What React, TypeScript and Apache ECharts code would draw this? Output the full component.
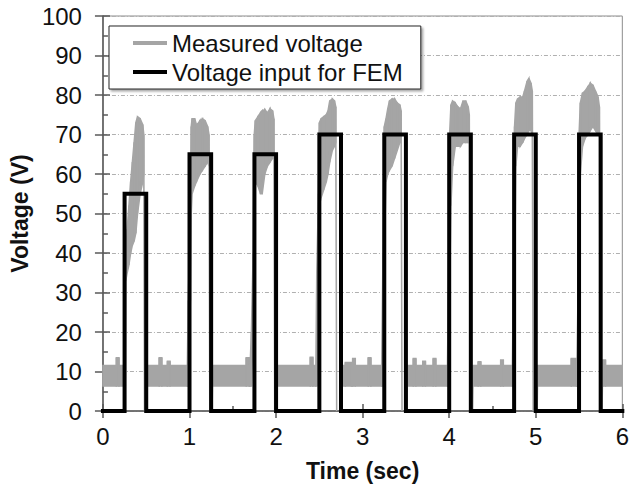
import React, { useEffect, useRef } from "react";
import * as echarts from "echarts";

// ---------- data ----------
const xTickLabels = ["0", "1", "2", "3", "4", "5", "6"];
const yTickLabels = ["0", "10", "20", "30", "40", "50", "60", "70", "80", "90", "100"];

// FEM voltage input: rectangular pulses
const pulseStart = [0.25, 1.0, 1.75, 2.5, 3.25, 4.0, 4.75, 5.5];
const pulseEnd = [0.5, 1.25, 2.0, 2.75, 3.5, 4.25, 5.0, 5.75];
const pulseLevel = [55, 65, 65, 70, 70, 70, 70, 70];

// Measured voltage: noisy band between off periods [low, high]
const baselineLow = 6.3;
const baselineHigh = 11.5;
const offStart = [0, 0.505, 1.265, 2.01, 2.765, 3.515, 4.275, 5.02, 5.77];
const offEnd = [0.245, 0.975, 1.7, 2.46, 3.22, 3.98, 4.73, 5.475, 6.0];
// [start, end, peak] of small spikes on the baseline band
const baselineSpikes = [
  [0.155, 0.185, 13.5], [0.65, 0.68, 13.5], [0.745, 0.775, 12.6], [1.655, 1.69, 13.5],
  [2.395, 2.425, 13.6], [2.8, 2.87, 12.3], [2.885, 2.915, 13.3], [3.065, 3.095, 13.5],
  [3.585, 3.615, 13.3], [3.695, 3.725, 12.6], [3.815, 3.845, 13.3], [4.335, 4.365, 12.5],
  [4.595, 4.625, 12.9], [5.41, 5.47, 13.3], [5.775, 5.805, 12.9],
];

// measured bursts: [time, lower envelope, upper envelope]
const burst1 = [
  [0.258, 6.3, 33], [0.264, 33, 40], [0.28, 35, 46], [0.3, 37, 52], [0.32, 40, 58], [0.34, 42, 63],
  [0.36, 43, 68], [0.38, 45, 73], [0.4, 50, 74.5], [0.43, 55, 74], [0.46, 58, 72.5], [0.472, 60, 70],
  [0.48, 0, 0],
];
const burst2 = [
  [0.985, 6.3, 28], [1.01, 28, 50], [1.02, 50, 72], [1.03, 55, 74], [1.06, 57, 74], [1.08, 58, 72.5],
  [1.1, 59, 72.8], [1.12, 60, 73.5], [1.15, 61, 74], [1.18, 62, 73.5], [1.21, 63, 72], [1.225, 62, 70],
  [1.234, 0, 0],
];
const burst3 = [
  [1.715, 6.3, 20], [1.735, 20, 40], [1.748, 40, 70], [1.76, 58, 73.5], [1.79, 57, 74.5], [1.82, 55, 75.5],
  [1.84, 55, 76], [1.87, 60, 76.3], [1.9, 62, 75.5], [1.93, 63, 76.5], [1.96, 64, 76], [1.975, 64, 74],
  [1.984, 0, 0],
];
const burst4 = [
  [2.47, 6.3, 35], [2.49, 35, 55], [2.5, 52, 73], [2.52, 54, 74], [2.55, 56, 74.5], [2.58, 58, 75],
  [2.6, 60, 76], [2.62, 63, 78.5], [2.65, 66, 79], [2.675, 67, 78.5], [2.69, 68, 77], [2.7, 0, 0],
];
const burst5 = [
  [3.235, 6.3, 40], [3.25, 40, 72], [3.27, 58, 74], [3.29, 60, 76.5], [3.31, 61, 78.5], [3.34, 62, 79],
  [3.37, 64, 79], [3.4, 66, 78], [3.43, 68, 77.5], [3.445, 68, 76], [3.455, 0, 0],
];
const burst6 = [
  [3.99, 6.3, 30], [4.005, 30, 70], [4.02, 52, 77.5], [4.04, 62, 78.5], [4.07, 67, 78], [4.1, 67, 77],
  [4.13, 67, 76.5], [4.16, 68, 78.5], [4.19, 68, 78.5], [4.22, 68, 77], [4.232, 68, 75], [4.242, 0, 0],
];
const burst7 = [
  [4.74, 6.3, 30], [4.755, 30, 72], [4.77, 62, 78], [4.79, 67, 79], [4.82, 67, 79.5], [4.85, 68, 79.5],
  [4.87, 69, 81], [4.9, 70, 83.5], [4.92, 71, 84.2], [4.945, 71, 83], [4.96, 70, 81], [4.97, 0, 0],
];
const burst8 = [
  [5.485, 6.3, 25], [5.5, 25, 70], [5.515, 60, 78], [5.54, 67, 80.5], [5.57, 69, 81], [5.6, 70, 82],
  [5.63, 71, 83], [5.66, 72, 82.5], [5.69, 71, 81], [5.72, 70, 79.5], [5.735, 70, 77], [5.745, 0, 0],
];
const bursts = [burst1, burst2, burst3, burst4, burst5, burst6, burst7, burst8];

const measuredName = "Measured voltage";
const femName = "Voltage input for FEM";

// ---------- styles ----------
const FONT = "'Liberation Sans', Arial, sans-serif";
const GRAY = "#a5a5a5";
const AXIS = "#595959";
const TEXT = "#111111";

export default function App() {
  const ref = useRef<HTMLDivElement>(null);

  useEffect(() => {
    const chart = echarts.init(ref.current!, null, { renderer: "svg" });

    const fem: number[][] = [[0, 0]];
    pulseStart.forEach((s, i) => {
      fem.push([s, 0], [s, pulseLevel[i]], [pulseEnd[i], pulseLevel[i]], [pulseEnd[i], 0]);
    });
    fem.push([6, 0]);

    // envelope points [t, low, high]
    const env: number[][] = [];
    for (let i = 0; i < offStart.length; i++) {
      if (i > 0) env.push([offStart[i] - 0.004, 0, 0]);
      env.push([offStart[i], baselineLow, baselineHigh]);
      baselineSpikes
        .filter((s) => s[0] >= offStart[i] && s[1] <= offEnd[i])
        .forEach(([a, b, h]) => {
          env.push([a, baselineLow, baselineHigh], [a, baselineLow, h], [b, baselineLow, h], [b, baselineLow, baselineHigh]);
        });
      env.push([offEnd[i], baselineLow, baselineHigh]);
      if (i < bursts.length) bursts[i].forEach((p) => env.push(p));
    }
    // band segments between consecutive envelope points
    const segments: number[][] = [];
    for (let i = 0; i + 1 < env.length; i++) {
      const a = env[i];
      const b = env[i + 1];
      if (a[2] === 0 && b[2] === 0) continue;
      segments.push([a[0], a[1], a[2], b[0], b[1], b[2]]);
    }

    const tickStyle = { color: AXIS, width: 1.5 };

    chart.setOption({
      animation: false,
      grid: {
        left: 98,
        right: 9,
        top: 16,
        bottom: 76,
        show: true,
        borderColor: "#8c8c8c",
        borderWidth: 1,
        containLabel: false,
      },
      legend: {
        left: 109,
        top: 26,
        orient: "vertical",
        backgroundColor: "#ffffff",
        borderColor: "#262626",
        borderWidth: 1,
        borderRadius: 0,
        padding: [5, 18, 5, 24],
        itemGap: 5,
        itemWidth: 34,
        itemHeight: 4,
        shadowColor: "rgba(0,0,0,0.35)",
        shadowBlur: 2,
        shadowOffsetX: 2,
        shadowOffsetY: 2,
        selectedMode: false,
        textStyle: { fontSize: 24, fontFamily: FONT, color: TEXT },
        data: [
          { name: measuredName, icon: "rect", itemStyle: { color: GRAY } },
          { name: femName, icon: "rect", itemStyle: { color: "#000000" } },
        ],
      },
      xAxis: [
        {
          type: "value",
          min: 0,
          max: 6,
          interval: 1,
          position: "bottom",
          axisLine: { show: true, onZero: false, lineStyle: tickStyle },
          axisTick: { show: true, length: 7, lineStyle: tickStyle },
          axisLabel: {
            fontSize: 24,
            fontFamily: FONT,
            color: TEXT,
            margin: 13,
            formatter: (v: number) => xTickLabels[Math.round(v)] ?? "",
          },
          splitLine: { show: false },
          name: "Time (sec)",
          nameLocation: "middle",
          nameGap: 48,
          nameTextStyle: { fontSize: 23, fontWeight: "bold", fontFamily: FONT, color: TEXT },
        },
        {
          type: "value",
          min: 0,
          max: 6,
          interval: 1,
          position: "bottom",
          axisLine: { show: false, onZero: false },
          axisTick: { show: true, inside: true, length: 7, lineStyle: tickStyle },
          minorTick: { show: true, splitNumber: 2, length: 5, lineStyle: tickStyle },
          axisLabel: { show: false },
          splitLine: { show: false },
        },
      ],
      yAxis: [
        {
          type: "value",
          min: 0,
          max: 100,
          interval: 10,
          position: "left",
          axisLine: { show: true, onZero: false, lineStyle: tickStyle },
          axisTick: { show: true, length: 8, lineStyle: tickStyle },
          axisLabel: {
            fontSize: 24,
            fontFamily: FONT,
            color: TEXT,
            margin: 21,
            formatter: (v: number) => yTickLabels[Math.round(v / 10)] ?? "",
          },
          splitLine: {
            show: true,
            lineStyle: { color: "#b0b0b0", width: 1, type: [4, 2, 1, 2] },
          },
          name: "Voltage (V)",
          nameLocation: "middle",
          nameGap: 65,
          nameTextStyle: { fontSize: 23, fontWeight: "bold", fontFamily: FONT, color: TEXT },
        },
        {
          type: "value",
          min: 0,
          max: 100,
          interval: 10,
          position: "left",
          axisLine: { show: false, onZero: false },
          axisTick: { show: true, inside: true, length: 7, lineStyle: tickStyle },
          minorTick: { show: true, splitNumber: 2, length: 5, lineStyle: tickStyle },
          axisLabel: { show: false },
          splitLine: { show: false },
        },
      ],
      series: [
        {
          name: measuredName,
          type: "custom",
          xAxisIndex: 0,
          yAxisIndex: 0,
          color: GRAY,
          clip: true,
          dimensions: ["t0", "l0", "h0", "t1", "l1", "h1"],
          encode: { x: [0, 3], y: [1, 2, 4, 5] },
          data: segments,
          renderItem: (params: any, api: any) => {
            const pts = [
              api.coord([api.value(0), api.value(1)]),
              api.coord([api.value(3), api.value(4)]),
              api.coord([api.value(3), api.value(5)]),
              api.coord([api.value(0), api.value(2)]),
            ];
            return {
              type: "polygon",
              shape: { points: pts },
              style: { fill: GRAY, stroke: GRAY, lineWidth: 1.5 },
            };
          },
          z: 2,
        },
        {
          name: femName,
          type: "line",
          xAxisIndex: 0,
          yAxisIndex: 0,
          data: fem,
          symbol: "none",
          showSymbol: false,
          color: "#000000",
          lineStyle: { color: "#000000", width: 4, cap: "square", join: "miter" },
          z: 3,
        },
      ],
    });

    return () => chart.dispose();
  }, []);

  return (
    <div
      ref={ref}
      style={{ position: "fixed", left: 0, top: 0, width: 632, height: 487, background: "#ffffff" }}
    />
  );
}
